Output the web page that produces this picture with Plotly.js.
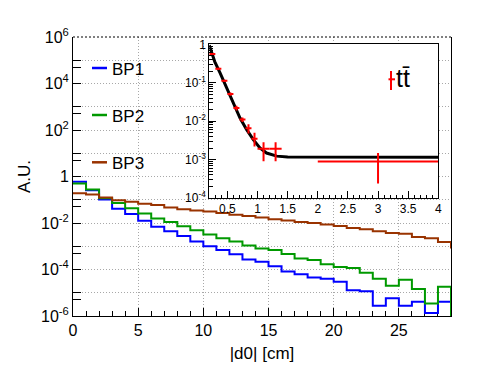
<!DOCTYPE html>
<html><head><meta charset="utf-8">
<script src="https://cdn.plot.ly/plotly-3.0.1.min.js"></script>
<style>html,body{margin:0;padding:0;background:#fff}</style>
</head><body><div id="chart" style="width:496px;height:372px"></div>
<script>
// ---- main histogram data (left bin edges, |d0| in cm) ----
const binEdges = [0,1,2,3,4,5,6,7,8,9,10,11,12,13,14,15,16,17,18,19,20,21,22,23,24,25,26,27,28,29];
const seriesNames = ['BP1','BP2','BP3'];
const bp1 = [0.589,0.257,0.102,0.0407,0.0245,0.0126,0.00692,0.00437,0.00275,0.00162,0.00100,6.92e-4,4.57e-4,2.69e-4,2.14e-4,1.38e-4,8.13e-5,6.31e-5,4.57e-5,3.98e-5,2.95e-5,1.29e-5,1.17e-5,2.75e-6,5.75e-6,2.75e-6,4.07e-6,1.35e-6,4.07e-6,1e-7];
const bp2 = [0.501,0.275,0.115,0.0724,0.0427,0.0257,0.0158,0.0110,0.00724,0.00490,0.00324,0.00219,0.00162,0.00107,7.94e-4,6.92e-4,4.68e-4,2.95e-4,2.57e-4,1.70e-4,1.29e-4,1.17e-4,7.24e-5,3.98e-5,2.00e-5,3.63e-5,1.45e-5,3.47e-6,1.82e-5,1e-7];
const bp3 = [0.191,0.170,0.126,0.0955,0.0813,0.0676,0.0589,0.0468,0.0389,0.0347,0.0309,0.0269,0.0229,0.0200,0.0174,0.0145,0.0129,0.0110,0.0100,0.00871,0.00741,0.00617,0.00537,0.00437,0.00372,0.00347,0.00251,0.00219,0.00151,7.94e-4];

// ---- inset data (ttbar) ----
const ttLabel = 'tt\u0304';
const ttX = [0.25,0.35,0.45,0.55,0.65,0.75,0.85,0.95,1.1,1.3,3.0];
const ttXerr = [0.05,0.05,0.05,0.05,0.05,0.05,0.05,0.05,0.1,0.1,1.0];
const ttY = [0.56,0.23,0.112,0.051,0.022,0.011,0.0065,0.0035,0.0019,0.0019,0.00089];
const ttYerrUp = [0.03,0.015,0.008,0.005,0.003,0.0015,0.0018,0.0015,0.00092,0.00092,0.00059];
const ttYerrDown = [0.03,0.015,0.008,0.005,0.003,0.0015,0.0017,0.0013,0.00099,0.00099,0.00065];
const fitX = [0.2,0.29,0.38,0.49,0.60,0.71,0.82,0.93,1.04,1.15,1.32,1.50,4.0];
const fitY = [0.95,0.355,0.178,0.072,0.0282,0.0120,0.0060,0.0033,0.0020,0.00148,0.00123,0.00117,0.00115];

// ---- tick labels ----
const mainYTickVals = [1e-6,1e-4,1e-2,1,1e2,1e4,1e6];
const mainYTickText = ['10<sup>-6</sup>','10<sup>-4</sup>','10<sup>-2</sup>','1','10<sup>2</sup>','10<sup>4</sup>','10<sup>6</sup>'];
const mainYOddDecades = [1e-5,1e-3,1e-1,1e1,1e3,1e5];
const mainYHalfTicks = [5e-6,5e-4,5e-2,5,5e2,5e4];
const mainXTickVals = [0,5,10,15,20,25];
const insetXTickVals = [0.5,1,1.5,2,2.5,3,3.5,4];
const insetXTickText = ['0.5','1','1.5','2','2.5','3','3.5','4'];
const insetYTickVals = [1e-4,1e-3,1e-2,1e-1,1];
const insetYTickText = ['10<sup>-4</sup>','10<sup>-3</sup>','10<sup>-2</sup>','10<sup>-1</sup>','1'];

const colors = ['#0000ff','#009900','#993300'];
const FONT = 'Liberation Sans, Arial, Helvetica, sans-serif';

const insetMinor = [];
for (let e = -4; e < 0; e++) for (let d = 2; d <= 9; d++) insetMinor.push(d * Math.pow(10, e));

const seriesData = [bp1, bp2, bp3];
const traces = [];
// invisible carrier for the odd-decade tick/grid axis
traces.push({type:'scatter', mode:'lines', x:[], y:[], xaxis:'x', yaxis:'y3', showlegend:false, hoverinfo:'skip'});
seriesData.forEach((ys, i) => traces.push({
  type:'scatter', mode:'lines', x: binEdges, y: ys, name: seriesNames[i],
  line:{shape:'hv', color: colors[i], width:2}, xaxis:'x', yaxis:'y', showlegend:false
}));
traces.push({
  type:'scatter', mode:'lines', x: fitX, y: fitY, xaxis:'x2', yaxis:'y2',
  line:{color:'black', width:3}, showlegend:false
});
traces.push({
  type:'scatter', mode:'markers', x: ttX, y: ttY, xaxis:'x2', yaxis:'y2', name: ttLabel,
  marker:{size:1, color:'#ff0000'}, showlegend:false,
  error_x:{type:'data', array: ttXerr, color:'#ff0000', thickness:2, width:0},
  error_y:{type:'data', symmetric:false, array: ttYerrUp, arrayminus: ttYerrDown, color:'#ff0000', thickness:2, width:0}
});

const px2x = p => (p - 73) / 378;
const px2y = p => (316 - p) / 279;
const legendY = [68, 115, 162.3];

const shapes = [
  {type:'line', xref:'paper', yref:'paper', x0:0, x1:1, y0:1, y1:1, line:{color:'#000', width:1, dash:'2px,2px'}}
];
const annotations = [];
legendY.forEach((py, i) => {
  shapes.push({type:'line', xref:'paper', yref:'paper', x0:px2x(92), x1:px2x(107), y0:px2y(py), y1:px2y(py), line:{color:colors[i], width:2.5}});
  annotations.push({xref:'paper', yref:'paper', x:px2x(110), y:px2y(py+1), xanchor:'left', yanchor:'middle', showarrow:false, text:seriesNames[i], font:{size:17, family:FONT, color:'black'}});
});
// ttbar legend key
shapes.push({type:'line', xref:'paper', yref:'paper', x0:px2x(391), x1:px2x(391), y0:px2y(90), y1:px2y(71), line:{color:'#ff0000', width:2}});
shapes.push({type:'line', xref:'paper', yref:'paper', x0:px2x(388.5), x1:px2x(395), y0:px2y(79.3), y1:px2y(79.3), line:{color:'#ff0000', width:2}});
annotations.push({xref:'paper', yref:'paper', x:px2x(394), y:px2y(78), xanchor:'left', yanchor:'middle', showarrow:false, text:ttLabel, font:{size:25, family:FONT, color:'black'}});

const gridDash = '1px,2px';
const gridColor = '#a8a8a8';
const layout = {
  width:496, height:372,
  margin:{l:73, r:45, t:37, b:56, pad:0},
  paper_bgcolor:'white', plot_bgcolor:'white', showlegend:false,
  font:{family:FONT, color:'black', size:16},
  xaxis:{domain:[0,1], range:[0,29], showline:true, linecolor:'black', linewidth:1, mirror:false,
    ticks:'inside', ticklen:8, tickcolor:'black', tickmode:'array', tickvals:mainXTickVals,
    showgrid:true, gridcolor:gridColor, griddash:gridDash, gridwidth:1, zeroline:false,
    minor:{dtick:1, tick0:0, ticklen:5, tickcolor:'black', ticks:'inside', showgrid:false},
    tickfont:{size:16}, title:{text:'|d0| [cm]', font:{size:17}, standoff:8}, automargin:false, layer:'below traces'},
  yaxis:{domain:[0,1], type:'log', range:[-6,6], showline:true, mirror:true, linecolor:'black', linewidth:1,
    ticks:'inside', ticklen:8, tickcolor:'black', tickmode:'array', tickvals:mainYTickVals, ticktext:mainYTickText,
    showgrid:true, gridcolor:gridColor, griddash:gridDash, gridwidth:1, zeroline:false,
    minor:{tickmode:'array', tickvals:mainYHalfTicks, ticklen:8, tickcolor:'black', ticks:'inside', showgrid:false},
    tickfont:{size:16}, title:{text:'A.U.', font:{size:17}, standoff:6}, automargin:false, layer:'below traces'},
  yaxis3:{overlaying:'y', anchor:'x', side:'left', type:'log', range:[-6,6], showline:false,
    ticks:'inside', ticklen:8, tickcolor:'black', tickmode:'array', tickvals:mainYOddDecades, showticklabels:false,
    showgrid:true, gridcolor:gridColor, griddash:gridDash, gridwidth:1, zeroline:false, automargin:false, layer:'below traces'},
  xaxis2:{domain:[0.3606,0.9664], anchor:'y2', range:[0.2,4], showline:true, mirror:true, linecolor:'black', linewidth:1,
    ticks:'inside', ticklen:7, tickcolor:'black', tickmode:'array', tickvals:insetXTickVals, ticktext:insetXTickText,
    minor:{dtick:0.1, tick0:0, ticklen:3, tickcolor:'black', ticks:'inside', showgrid:false},
    showgrid:false, zeroline:false, tickfont:{size:12}, automargin:false},
  yaxis2:{domain:[0.4229,0.9738], anchor:'x2', type:'log', range:[-4,0], showline:true, mirror:true, linecolor:'black', linewidth:1,
    ticks:'inside', ticklen:7, tickcolor:'black', tickmode:'array', tickvals:insetYTickVals, ticktext:insetYTickText,
    minor:{tickmode:'array', tickvals:insetMinor, ticklen:4, tickcolor:'black', ticks:'inside', showgrid:false},
    showgrid:false, zeroline:false, tickfont:{size:12}, automargin:false},
  shapes: shapes,
  annotations: annotations
};
Plotly.newPlot('chart', traces, layout, {staticPlot:true, displayModeBar:false});
</script>
</body></html>
